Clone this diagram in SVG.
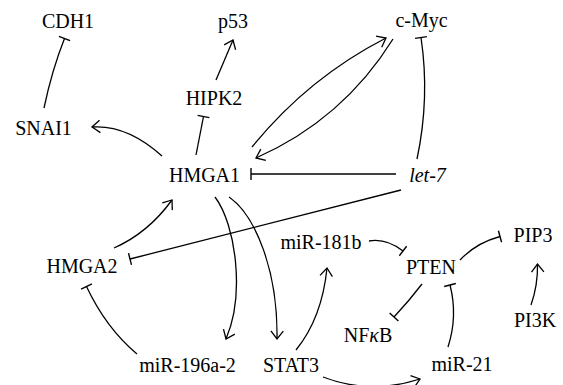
<svg xmlns="http://www.w3.org/2000/svg" width="563" height="385" viewBox="0 0 563 385">
<style>
text{font-family:'Liberation Serif','DejaVu Serif',serif;font-size:20px;fill:#000;text-anchor:middle}
.e{fill:none;stroke:#000;stroke-width:1.3}
.a{marker-end:url(#arr)}
.b{marker-end:url(#bar)}
</style>
<defs>
<marker id="arr" markerUnits="userSpaceOnUse" viewBox="-11 -8 13 16" markerWidth="13" markerHeight="16" refX="0" refY="0" orient="auto" overflow="visible">
<path d="M-8,-6.2 L0,0 L-8,6.2" fill="none" stroke="#000" stroke-width="1.3"/>
</marker>
<marker id="bar" markerUnits="userSpaceOnUse" viewBox="-2 -8 4 16" markerWidth="4" markerHeight="16" refX="0" refY="0" orient="auto" overflow="visible">
<path d="M0,-6 L0,6" fill="none" stroke="#000" stroke-width="1.4"/>
</marker>
</defs>
<g id="connectors">
<path class="e b" d="M44,108 Q52,70 64.5,38.5"/>
<path class="e a" d="M216,80 L233,40"/>
<path class="e b" d="M196,155 L203.5,116.5"/>
<path class="e a" d="M162,156 Q127,124.5 92,127"/>
<path class="e a" d="M252,147 Q308,78 386,38"/>
<path class="e a" d="M393,39 Q343,119.5 256,158"/>
<path class="e b" d="M417,159 Q430,98 421,37.5"/>
<path class="e b" d="M396,174 L251,174"/>
<path class="e b" d="M401,190 L130,259"/>
<path class="e a" d="M114,248 Q148,233 172,200"/>
<path class="e b" d="M137,354 Q106,328 86.5,286.5"/>
<path class="e a" d="M215,197 C236,225 245,295 226,339"/>
<path class="e a" d="M229,197 C255,215 278,270 277,339"/>
<path class="e a" d="M296,350 Q322,318 327,268"/>
<path class="e a" d="M323,377 Q370,395 420,379"/>
<path class="e b" d="M369,241 Q386,238 403,251"/>
<path class="e b" d="M460,260 Q476,243 500,236.5"/>
<path class="e a" d="M531,305 Q538,285 537.5,264"/>
<path class="e b" d="M422,284 Q409,301 394,317"/>
<path class="e b" d="M448,347 Q458,316 450,285"/>
</g>
<g id="nodes" font-family="'Liberation Serif', serif" font-size="20">
<g id="CDH1"><text x="68" y="28">CDH1</text></g>
<g id="p53"><text x="233" y="28">p53</text></g>
<g id="cMyc"><text x="421.5" y="27">c-Myc</text></g>
<g id="HIPK2"><text x="214" y="105">HIPK2</text></g>
<g id="SNAI1"><text x="43.5" y="135">SNAI1</text></g>
<g id="HMGA1"><text x="204.5" y="182">HMGA1</text></g>
<g id="let7"><text x="427.5" y="182" font-style="italic">let-7</text></g>
<g id="HMGA2"><text x="82" y="273">HMGA2</text></g>
<g id="miR181b"><text x="321" y="249">miR-181b</text></g>
<g id="PTEN"><text x="431" y="274">PTEN</text></g>
<g id="PIP3"><text x="533" y="242">PIP3</text></g>
<g id="PI3K"><text x="535" y="327">PI3K</text></g>
<g id="NFkB"><text x="368" y="342">NF<tspan font-style="italic">κ</tspan>B</text></g>
<g id="miR196a2"><text x="187.5" y="372">miR-196a-2</text></g>
<g id="STAT3"><text x="291" y="372">STAT3</text></g>
<g id="miR21"><text x="462" y="371">miR-21</text></g>
</g>
</svg>
